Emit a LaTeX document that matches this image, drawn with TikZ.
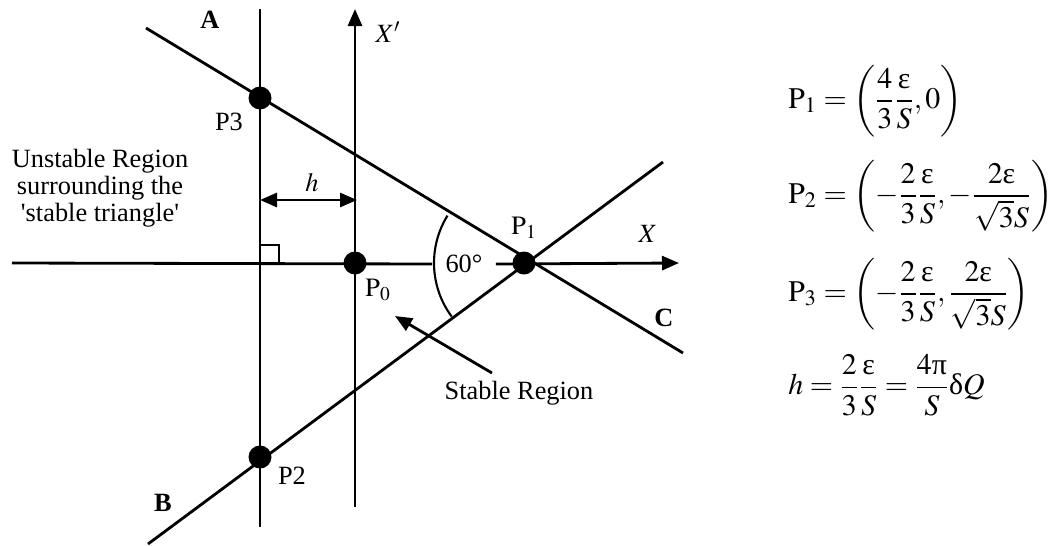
\documentclass[tikz,border=0pt]{standalone}
\usepackage{amsmath}
\usepackage{mathptmx}
\usepackage{fontspec}
\setmainfont{Liberation Serif}
\usetikzlibrary{arrows.meta}

\newcommand{\ueps}{\text{ε}}

\begin{document}
\begin{tikzpicture}[
    x=0.02cm, y=-0.02cm,
    line/.style={line width=1.6pt},
    arrow/.style={line width=1.6pt, -{Triangle[length=0.34cm, width=0.28cm]}},
    twoway/.style={line width=1.6pt, {Triangle[length=0.34cm, width=0.28cm]}-{Triangle[length=0.34cm, width=0.28cm]}},
    dot/.style={circle, fill=black, inner sep=0pt, minimum size=0.46cm},
    label/.style={font=\fontsize{15}{16}\selectfont, inner sep=1pt},
    eqn/.style={font=\fontsize{17}{20}\selectfont, anchor=west, inner sep=0pt}
  ]
  \useasboundingbox (0,0) rectangle (1058,545);

  \coordinate (Atop) at (260,9);
  \coordinate (Abot) at (260,527);
  \coordinate (Xptop) at (355,9);
  \coordinate (Xpbot) at (355,507);
  \coordinate (Xleft) at (12,263);
  \coordinate (Xright) at (679,263);
  \coordinate (ACstart) at (146,28);
  \coordinate (ACend) at (683,353);
  \coordinate (Bstart) at (148,544);
  \coordinate (Bend) at (663,162);
  \coordinate (hL) at (260,200);
  \coordinate (hR) at (357,200);
  \coordinate (stabtail) at (492,373);
  \coordinate (stabtip) at (395,316);

  \node[label, fill=white, inner xsep=0.26cm, inner ysep=1pt] (angle) at (464,264) {60°};

  \draw[line] (Atop) -- (Abot);
  \draw[arrow] (Xpbot) -- (Xptop);
  \draw[line] (Xleft) -- (angle.west);
  \draw[arrow] (angle.east) -- (Xright);
  \draw[line] (ACstart) -- (ACend);
  \draw[line] (Bstart) -- (Bend);
  \draw[line width=0.9pt] (260,245) rectangle (279,263);
  \draw[twoway] (hL) -- (hR);
  \draw[arrow] (stabtail) -- (stabtip);

  \node[dot] (p3) at (260,98) {};
  \node[dot] (p0) at (355,263) {};
  \node[dot] (p1) at (524,263) {};
  \node[dot] (p2) at (260,457) {};

  \draw[line width=1.2pt] (p1.center) ++(211.75:90) arc[start angle=211.75, end angle=143.5, radius=90];

  \node[label] (lblA) at (210,20) {\textbf{A}};
  \node[label] (lblB) at (163,503) {\textbf{B}};
  \node[label] (lblC) at (664,318) {\textbf{C}};
  \node[label] (lblXp) at (388,32) {$X'$};
  \node[label] (lblX) at (648,234) {$X$};
  \node[label] (lblh) at (312,183) {$h$};
  \node[label] (lblP3) at (229,122) {P3};
  \node[label] (lblP2) at (292,476) {P2};
  \node[label] (lblP0) at (378,290) {$\mathrm{P}_0$};
  \node[label] (lblP1) at (524,228) {$\mathrm{P}_1$};
  \node[label] (stable) at (519,393) {Stable Region};
  \node[label, align=center, font=\fontsize{15}{15.5}\selectfont] (unstable) at (100,188)
    {Unstable Region\\surrounding the\\\textquotesingle stable triangle\textquotesingle};

  \node[eqn] (eqP1) at (788,101)
    {$\mathrm{P}_1=\left(\dfrac{4}{3}\dfrac{\ueps}{S},0\right)$};
  \node[eqn] (eqP2) at (788,196)
    {$\mathrm{P}_2=\left(-\dfrac{2}{3}\dfrac{\ueps}{S},-\dfrac{2\ueps}{\sqrt{3}S}\right)$};
  \node[eqn] (eqP3) at (788,294)
    {$\mathrm{P}_3=\left(-\dfrac{2}{3}\dfrac{\ueps}{S},\dfrac{2\ueps}{\sqrt{3}S}\right)$};
  \node[eqn] (eqh) at (788,385)
    {$h=\dfrac{2}{3}\dfrac{\ueps}{S}=\dfrac{4\text{π}}{S}\text{δ}Q$};
\end{tikzpicture}
\end{document}
